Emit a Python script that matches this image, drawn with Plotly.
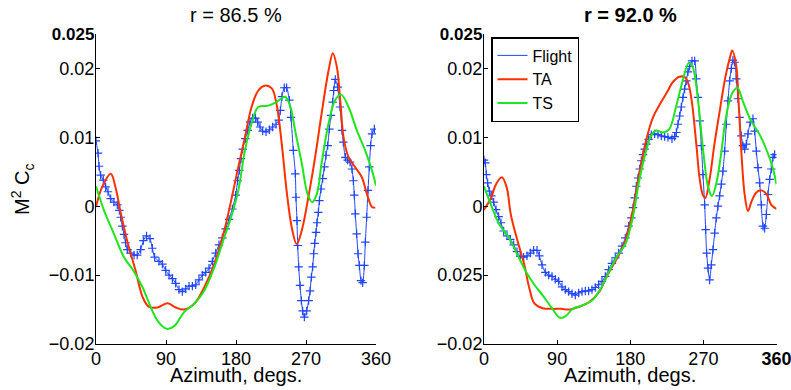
import plotly.graph_objects as go

# ---------------- data: left panel (r = 86.5 %) ----------------
left_flight_az = [0, 2.6, 3.9, 6, 9.4, 12.4, 15.4, 18.9, 23, 27.4, 30, 31.7, 33.9, 36, 38, 40.3, 44.6,
                  48.9, 53, 57.4, 60.9, 65, 69.4, 72.4, 75.4, 81, 85.3, 89.6, 93.9, 98.2, 102.4,
                  106.7, 111, 115.3, 119.6, 123.9, 128.2, 132.4, 136.7, 141, 145.3, 149.6, 153.9,
                  158.1, 162.4, 166.7, 171, 175.3, 179.6, 182.1, 184.3, 186.4, 188.6, 192, 195, 198,
                  201.4, 204.9, 207.9, 210.9, 214.3, 218.6, 222.9, 227.1, 231.4, 234.9, 237, 239.1,
                  242.1, 245.1, 248.6, 250.7, 253.7, 256.3, 257.1, 258.4, 259.3, 260.6, 262.3, 264,
                  265.7, 267.9, 270.9, 273.4, 275.2, 276.9, 278.6, 279.9, 281.2, 282.9, 284.1, 285.9,
                  287.2, 289.3, 291.4, 293.6, 295.7, 297.9, 300, 302.1, 304.3, 305.6, 307.7, 310.7,
                  313.7, 316.3, 318, 320.6, 323.6, 326.6, 329.1, 330.9, 332.1, 333.4, 335.1, 336.9,
                  338.6, 340.7, 342.9, 345, 346.3, 348, 349.7, 351.4, 353.1, 354.9, 357.9]
left_flight = [0.0095, 0.0077, 0.0058, 0.0045, 0.0038, 0.0028, 0.0021, 0.0011, 0.0006, 0.0002,
               -0.0006, -0.0016, -0.0029, -0.0041, -0.0053, -0.0063, -0.0068, -0.0071, -0.0071,
               -0.0063, -0.0050, -0.0043, -0.0047, -0.0061, -0.0074, -0.0080, -0.0084, -0.0093,
               -0.0100, -0.0105, -0.0112, -0.0121, -0.0124, -0.0120, -0.0116, -0.0116, -0.0114,
               -0.0107, -0.0100, -0.0096, -0.0090, -0.0080, -0.0068, -0.0056, -0.0046, -0.0033,
               -0.0019, -0.0004, 0.0016, 0.0037, 0.0052, 0.0069, 0.0083, 0.0098, 0.0110, 0.0122,
               0.0128, 0.0128, 0.0122, 0.0115, 0.0109, 0.0108, 0.0111, 0.0115, 0.0119, 0.0125,
               0.0139, 0.0159, 0.0172, 0.0172, 0.0154, 0.0129, 0.0081, 0.0047, 0.0013, -0.0021,
               -0.0057, -0.0088, -0.0115, -0.0137, -0.0152, -0.0161, -0.0152, -0.0137, -0.0123,
               -0.0103, -0.0088, -0.0069, -0.0054, -0.0038, -0.0024, -0.0009, 0.0008, 0.0025, 0.0040,
               0.0057, 0.0074, 0.0088, 0.0112, 0.0132, 0.0151, 0.0168, 0.0184, 0.0173, 0.0144,
               0.0110, 0.0093, 0.0071, 0.0067, 0.0064, 0.0054, 0.0037, 0.0016, -0.0011, -0.0040,
               -0.0069, -0.0086, -0.0108, -0.0111, -0.0086, -0.0052, -0.0016, 0.0023, 0.0057, 0.0088,
               0.0105, 0.0112]

left_ta_az = [0, 8, 19, 25, 32, 40, 51, 60, 68, 79, 92, 102.6, 113, 126, 139, 152, 165, 183, 191.5,
              200, 208.7, 217, 226, 232, 238.8, 245, 251.7, 258, 264.6, 273, 281.7, 290, 299, 304.5,
              309.7, 314, 318.3, 324.7, 333, 341.8, 348.3, 354.8, 359]
left_ta = [-0.0001, 0.0028, 0.0047, 0.0028, -0.0011, -0.0050, -0.0094, -0.0132, -0.0146, -0.0147,
           -0.0141, -0.0147, -0.0150, -0.0142, -0.0118, -0.0084, -0.0035, 0.0057, 0.0100, 0.0144,
           0.0168, 0.0175, 0.0171, 0.0149, 0.0091, 0.0023, -0.0031, -0.0055, -0.0035, 0.0013,
           0.0071, 0.0134, 0.0197, 0.0222, 0.0202, 0.0154, 0.0100, 0.0071, 0.0057, 0.0042, 0.0018,
           -0.0001, -0.0002]

left_ts_az = [0, 10.3, 23, 36, 49, 60, 68, 79, 91, 100.5, 113, 126, 139, 152, 165, 174, 183, 191.5,
              200, 208.7, 221.6, 232, 243, 249.5, 256, 264.6, 272, 278, 284, 290, 299, 307.5, 315.2,
              324.7, 335.4, 346, 354.8, 360]
left_ts = [0.0029, -0.0006, -0.0040, -0.0074, -0.0095, -0.0118, -0.0140, -0.0166, -0.0178, -0.0174,
           -0.0154, -0.0142, -0.0123, -0.0089, -0.0045, -0.0015, 0.0023, 0.0081, 0.0120, 0.0144,
           0.0146, 0.0151, 0.0159, 0.0146, 0.0110, 0.0062, 0.0018, 0.0006, 0.0018, 0.0062, 0.0120,
           0.0154, 0.0162, 0.0144, 0.0110, 0.0081, 0.0052, 0.0030]

# ---------------- data: right panel (r = 92.0 %) ----------------
right_flight_az = [0, 1.6, 2.9, 4.5, 6.6, 9, 11.9, 14.8, 18, 20.9, 24.2, 28.3, 32.4, 36.5, 40.6, 44.7,
                   48.8, 52.9, 57, 61.1, 65.2, 68.1, 71.4, 75.5, 79.6, 83.7, 87.8, 91.9, 96, 100.1,
                   104.2, 108.3, 112.4, 116.5, 120.6, 124.7, 128.8, 132.9, 137, 141.1, 145.2, 149.3,
                   153.4, 157.5, 161.6, 165.7, 169.8, 173.9, 178, 181.3, 183.4, 185.4, 187.5, 189.5,
                   191.6, 193.6, 195.7, 197.7, 199.8, 202.6, 205.9, 210, 214.1, 218.2, 222.3, 226.4,
                   231.4, 234.6, 236.7, 238.7, 240.8, 242.8, 244.9, 246.9, 249, 251, 253.1, 256,
                   259.3, 261.3, 263.4, 265.4, 267.5, 269.5, 271.6, 272.8, 274, 275.7, 277.7, 279.8,
                   281.8, 283.9, 285.9, 288, 290, 292.1, 294.1, 296.2, 298.2, 300.3, 302.3, 304.4,
                   306.4, 308.5, 310.5, 312.6, 314.6, 316.7, 318.7, 320.8, 322.8, 324.9, 327.8, 331,
                   333.1, 335.2, 337.2, 339.3, 341.3, 343.4, 345.4, 347.5, 349.5, 351.6, 353.6, 355.7,
                   357.7]
right_flight = [0.0067, 0.0063, 0.0046, 0.0034, 0.0022, 0.0015, 0.0006, -0.0005, -0.0015, -0.0024,
                -0.0036, -0.0043, -0.0048, -0.0056, -0.0066, -0.0073, -0.0074, -0.0072, -0.0068,
                -0.0064, -0.0064, -0.0072, -0.0085, -0.0096, -0.0100, -0.0102, -0.0106, -0.0109,
                -0.0117, -0.0121, -0.0124, -0.0127, -0.0129, -0.0126, -0.0124, -0.0123, -0.0123,
                -0.0121, -0.0118, -0.0114, -0.0109, -0.0102, -0.0092, -0.0083, -0.0075, -0.0068,
                -0.0058, -0.0046, -0.0029, -0.0017, -0.0002, 0.0012, 0.0029, 0.0041, 0.0054, 0.0066,
                0.0075, 0.0083, 0.0090, 0.0097, 0.0104, 0.0105, 0.0104, 0.0102, 0.0101, 0.0100,
                0.0098, 0.0101, 0.0107, 0.0119, 0.0131, 0.0144, 0.0158, 0.0170, 0.0182, 0.0195,
                0.0203, 0.0211, 0.0211, 0.0185, 0.0158, 0.0124, 0.0088, 0.0046, 0.0002, -0.0034,
                -0.0068, -0.0090, -0.0107, -0.0085, -0.0063, -0.0039, -0.0017, 0.0000, 0.0015,
                0.0032, 0.0051, 0.0080, 0.0119, 0.0153, 0.0182, 0.0200, 0.0212, 0.0209, 0.0185,
                0.0156, 0.0129, 0.0102, 0.0088, 0.0083, 0.0090, 0.0105, 0.0122, 0.0127, 0.0109,
                0.0080, 0.0056, 0.0034, 0.0002, -0.0029, -0.0032, -0.0012, 0.0017, 0.0039, 0.0054,
                0.0071, 0.0075]

right_ta_az = [0, 8.6, 14.8, 22, 28, 33, 41.4, 49.6, 55.8, 62, 72, 84.5, 94.8, 105, 117, 129.6, 142,
               152, 162.5, 174, 183, 191, 199.4, 208, 217, 225, 233, 240.6, 247.5, 252, 256, 261.3,
               265.4, 269.5, 272.4, 277.5, 283.6, 289.8, 297, 302.3, 305.5, 310.3, 313.4, 316.7,
               320.8, 324.9, 329, 335.2, 341.3, 347.5, 353.6, 360]
right_ta = [-0.0005, 0.0012, 0.0032, 0.0042, 0.0027, -0.0012, -0.0051, -0.0085, -0.0119, -0.0141,
            -0.0148, -0.0149, -0.0149, -0.0150, -0.0146, -0.0139, -0.0124, -0.0100, -0.0078, -0.0050,
            -0.0007, 0.0046, 0.0095, 0.0129, 0.0149, 0.0165, 0.0181, 0.0188, 0.0187, 0.0176, 0.0150,
            0.0090, 0.0040, 0.0016, 0.0012, 0.0038, 0.0090, 0.0136, 0.0187, 0.0214, 0.0226, 0.0205,
            0.0150, 0.0080, 0.0017, -0.0007, 0.0006, 0.0020, 0.0023, 0.0018, 0.0002, -0.0004]

right_ts_az = [0, 8.6, 19, 31, 41.4, 51.7, 62, 72, 82.5, 93.5, 101, 109, 121.4, 133.7, 144, 154, 164.5,
               174, 183, 191, 199.4, 205.5, 211.7, 220, 228, 236.3, 244.5, 252, 256.8, 263, 269.8,
               276, 280.6, 285.7, 291.7, 297.8, 305, 312, 318.4, 328.6, 338.8, 349, 355.3, 360]
right_ts = [0.0029, 0.0002, -0.0027, -0.0046, -0.0071, -0.0095, -0.0114, -0.0129, -0.0146, -0.0162,
            -0.0159, -0.0149, -0.0144, -0.0136, -0.0119, -0.0095, -0.0071, -0.0055, -0.0017, 0.0037,
            0.0080, 0.0102, 0.0110, 0.0107, 0.0112, 0.0144, 0.0182, 0.0208, 0.0202, 0.0158, 0.0080,
            0.0027, 0.0015, 0.0032, 0.0075, 0.0129, 0.0163, 0.0172, 0.0153, 0.0124, 0.0105, 0.0078,
            0.0056, 0.0032]

# ---------------- ticks and labels ----------------
x_ticks = [0, 90, 180, 270, 360]
left_xtext = ["0", "90", "180", "270", "360"]
right_xtext = ["0", "90", "180", "270", "<b>360</b>"]
y_ticks = [0.025, 0.02, 0.01, 0, -0.01, -0.02]
left_ytext = ["<b><span style='font-size:17px'>0.025</span></b>", "0.02", "0.01", "0",
              "\u22120.01", "\u22120.02"]
right_ytext = ["<b><span style='font-size:17px'>0.025</span></b>", "0.02", "0.01", "0",
               "0.025", "\u22120.02"]
titles = ["r = 86.5 %", "<b>r = 92.0 %</b>"]
series_names = ["Flight", "TA", "TS"]

BLUE = "#1f45ff"
RED = "#ff3000"
GREEN = "#1ee61e"
FONT = "Liberation Sans, Arial, Helvetica, sans-serif"

W, H = 791, 390
# axes boxes in pixels: (left, right) and (top, bottom)
left_px = (96, 376)
right_px = (484, 776.5)
top_px, bottom_px = 34, 344


def px_x(p):
    return p / W


def px_y(p):
    return 1 - p / H


fig = go.Figure()

panels = [
    (left_flight_az, left_flight, left_ta_az, left_ta, left_ts_az, left_ts, "x", "y"),
    (right_flight_az, right_flight, right_ta_az, right_ta, right_ts_az, right_ts, "x2", "y2"),
]

for fa, fv, ta_a, ta_v, ts_a, ts_v, xa, ya in panels:
    fig.add_trace(go.Scatter(
        x=fa, y=fv, name=series_names[0], mode="lines+markers", xaxis=xa, yaxis=ya,
        line=dict(color=BLUE, width=1, shape="spline", smoothing=0.6),
        marker=dict(symbol="cross-thin", size=6, color=BLUE, line=dict(color=BLUE, width=1.2)),
        showlegend=False,
    ))
    fig.add_trace(go.Scatter(
        x=ta_a, y=ta_v, name=series_names[1], mode="lines", xaxis=xa, yaxis=ya,
        line=dict(color=RED, width=2, shape="spline", smoothing=1.0),
        showlegend=(xa == "x2"), legendrank=2,
    ))
    fig.add_trace(go.Scatter(
        x=ts_a, y=ts_v, name=series_names[2], mode="lines", xaxis=xa, yaxis=ya,
        line=dict(color=GREEN, width=2, shape="spline", smoothing=1.0),
        showlegend=(xa == "x2"), legendrank=3,
    ))

# legend key for the flight data: plain line sample
fig.add_trace(go.Scatter(x=[None], y=[None], name=series_names[0], mode="lines",
                         xaxis="x2", yaxis="y2", line=dict(color=BLUE, width=1),
                         legendrank=1))

axis_common = dict(showline=True, linecolor="black", linewidth=1, ticks="inside", ticklen=4,
                   tickcolor="black", showgrid=False, zeroline=False, automargin=False,
                   ticklabeloverflow="allow",
                   tickfont=dict(family=FONT, size=18, color="black"))

fig.update_layout(
    width=W, height=H,
    margin=dict(l=0, r=0, t=0, b=0, autoexpand=False),
    paper_bgcolor="white", plot_bgcolor="white",
    font=dict(family=FONT, color="black"),
    xaxis=dict(domain=[px_x(left_px[0]), px_x(left_px[1])], range=[0, 360], anchor="y",
               tickvals=x_ticks, ticktext=left_xtext, ticklabelstandoff=-2, **axis_common),
    yaxis=dict(domain=[px_y(bottom_px), px_y(top_px)], range=[-0.02, 0.025], anchor="x",
               tickvals=y_ticks, ticktext=left_ytext, ticklabelstandoff=-3, **axis_common),
    xaxis2=dict(domain=[px_x(right_px[0]), px_x(right_px[1])], range=[0, 360], anchor="y2",
                tickvals=x_ticks, ticktext=right_xtext, ticklabelstandoff=-2, **axis_common),
    yaxis2=dict(domain=[px_y(bottom_px), px_y(top_px)], range=[-0.02, 0.025], anchor="x2",
                tickvals=y_ticks, ticktext=right_ytext, ticklabelstandoff=-3, **axis_common),
    legend=dict(x=px_x(491), y=px_y(37), xanchor="left", yanchor="top",
                bgcolor="white", bordercolor="black", borderwidth=1.5,
                font=dict(family=FONT, size=16, color="black"),
                tracegroupgap=0, itemwidth=30, traceorder="normal"),
    showlegend=True,
)

# panel titles and x-axis titles
for i, (lo, hi) in enumerate([left_px, right_px]):
    fig.add_annotation(text=titles[i], x=px_x((lo + hi) / 2), y=px_y(15), xref="paper", yref="paper",
                       showarrow=False, font=dict(family=FONT, size=20, color="black"),
                       xanchor="center", yanchor="middle")
    fig.add_annotation(text="Azimuth, degs.", x=px_x((lo + hi) / 2), y=px_y(375), xref="paper",
                       yref="paper", showarrow=False, font=dict(family=FONT, size=20, color="black"),
                       xanchor="center", yanchor="middle")

# y-axis label
fig.add_annotation(text="M<sup>2</sup> C<sub>c</sub>", x=px_x(22), y=px_y(190), xref="paper",
                   yref="paper", showarrow=False, textangle=-90,
                   font=dict(family=FONT, size=20, color="black"),
                   xanchor="center", yanchor="middle")

fig.write_html("out.html")
